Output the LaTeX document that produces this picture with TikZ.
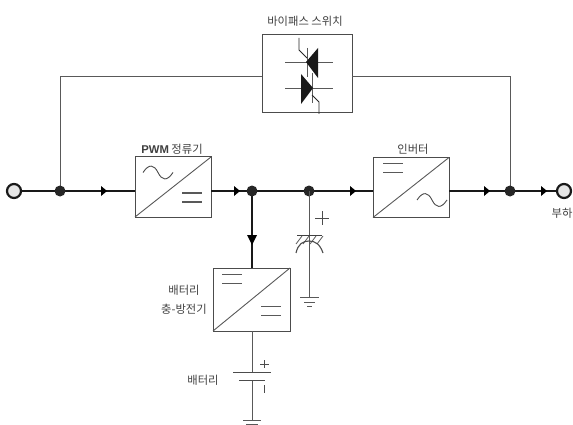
\documentclass[tikz,border=0pt]{standalone}
\usepackage{fontspec}
\setmainfont{Liberation Sans}
\newfontfamily\krf{Noto Sans CJK KR}
\usetikzlibrary{arrows.meta}
\tikzset{
  x=1pt,y=-1pt,
  thick line/.style={line width=2.4pt,black!90},
  thin line/.style={line width=0.9pt,black!65},
  conv/.style={draw=black!70,line width=1pt,fill=white,minimum width=76pt,minimum height=60pt,inner sep=0pt,outer sep=0pt},
  dot/.style={circle,fill=black!85,inner sep=0pt,minimum size=11pt},
  term/.style={circle,draw=black!90,line width=2.2pt,fill=black!10,inner sep=0pt,minimum size=14pt},
  lbl/.style={font=\krf\fontsize{11.3}{13}\selectfont,text=black!75,inner sep=0pt,align=center},
}
\begin{document}
\begin{tikzpicture}
\useasboundingbox (0,0) rectangle (573,425);
% nodes
\node[term] (in) at (14,191) {};
\node[term] (out) at (564,191) {};
\node[conv] (pwm) at (173,187) {};
\node[conv] (inv) at (411,187.5) {};
\node[conv,minimum height=63pt,minimum width=77pt] (chg) at (251.5,299.5) {};
\node[conv,minimum width=90pt,minimum height=78pt] (byp) at (307,74) {};
\coordinate (c1) at (60,76);
\coordinate (c2) at (510,76);
\coordinate (capT) at (309,235);
\coordinate (capB) at (309,297);
\coordinate (batT) at (252,372);
\coordinate (batM) at (252,380);
\coordinate (batB) at (252,420);
\coordinate (n1) at (60,191);
\coordinate (n2) at (252,191);
\coordinate (n3) at (309,191);
\coordinate (n4) at (510,191);
% bypass path
\draw[thin line] (n1) -- (c1) -- (byp.west |- c1);
\draw[thin line] (byp.east |- c2) -- (c2) -- (n4);
% main path
\draw[thick line] (in) -- (pwm.west |- in);
\draw[thick line] (pwm.east |- n2) -- (n2);
\draw[thick line] (n2) -- (inv.west |- n2);
\draw[thick line] (inv.east |- n4) -- (n4) -- (out);
\draw[thick line] (n2) -- (chg.north -| n2);
\foreach \x in {107,240,356,490,547}{\fill[black] (\x,191) -- (\x-6,186) -- (\x-6,196) -- cycle;}
\fill[black] (247,235) -- (252,245) -- (257,235) -- cycle;
% junction dots
\node[dot] (d1) at (n1) {};
\node[dot] (d2) at (n2) {};
\node[dot] (d3) at (n3) {};
\node[dot] (d4) at (n4) {};
% converter diagonals
\draw[thin line] (pwm.south west) -- (pwm.north east);
\draw[thin line] (inv.south west) -- (inv.north east);
\draw[thin line] (chg.south west) -- (chg.north east);
% ac / dc symbols
\tikzset{sine/.pic={\draw[line width=0.9pt,black!70] (-15,0) .. controls (-9,-9) and (-4,-8) .. (0,0) .. controls (4,8) and (9,9) .. (15,0);}}
\tikzset{dcs/.pic={\draw[line width=1.1pt,black!65] (-10,-4.5) -- (10,-4.5) (-10,4.5) -- (10,4.5);}}
\pic at (158,172.5) {sine};
\pic at (192,197.5) {dcs};
\pic at (393,168) {dcs};
\pic at (432,200) {sine};
\pic at (232,279) {dcs};
\pic at (271,311) {dcs};
% thyristors
\draw[thin line] (285,62) -- (333,62) (285,88) -- (333,88);
\draw[thin line] (307,48) -- (307,77) (312,73) -- (312,103);
\fill[black!90] (306,62) -- (318,48) -- (318,78) -- cycle;
\fill[black!90] (313,88) -- (301,74) -- (301,104) -- cycle;
\draw[line width=0.8pt,black!85] (299,38) -- (299,50) -- (307,58);
\draw[line width=0.8pt,black!85] (319,114) -- (319,102) -- (312,95);
% capacitor
\draw[thin line] (n3) -- (capB);
\draw[line width=1pt,black!70] (315,218) -- (329,218) (322,211) -- (322,225);
\draw[line width=1.1pt,black!75] (297,235.5) -- (322,235.5);
\foreach \x in {302,309,316,323}{\draw[line width=0.8pt,black!65] (\x,236) -- (\x-6,244);}
\draw[line width=1.1pt,black!70] (296,253) .. controls (298,244) and (303,241) .. (309,241) .. controls (315,241) and (320,244) .. (323,253);
\draw[thin line] (300,297) -- (319,297);
\draw[thin line] (304,302) -- (315,302);
\draw[line width=1.2pt,black!65] (307,306.5) -- (312,306.5);
% battery
\draw[thin line] (chg.south -| batT) -- (batT);
\draw[thin line] (batM) -- (batB);
\draw[line width=1pt,black!70] (233,372) -- (271,372);
\draw[line width=1.2pt,black!70] (239,380.5) -- (265,380.5);
\draw[line width=0.9pt,black!70] (260,364) -- (269,364) (264.5,360) -- (264.5,368);
\draw[line width=1pt,black!70] (264,385) -- (264,393);
\draw[thin line] (243,420) -- (261,420);
\draw[thin line] (246,424) -- (258,424);
% labels
\node[lbl] (tb) at (305,21) {바이패스 스위치};
\node[lbl] (tp) at (172,149.5) {{\fontspec{Liberation Sans}\bfseries PWM} 정류기};
\node[lbl] (ti) at (413,149.5) {인버터};
\node[lbl] (tl) at (562,213) {부하};
\node[lbl] (tc) at (184,290) {배터리};
\node[lbl] (tc2) at (184,309) {충-방전기};
\node[lbl] (tbat) at (203,380) {배터리};
\end{tikzpicture}
\end{document}
